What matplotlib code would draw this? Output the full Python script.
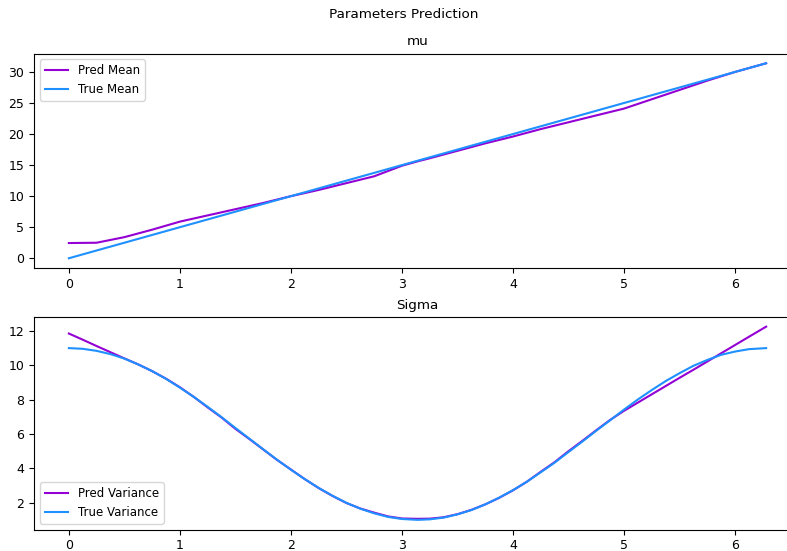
import numpy as np
import matplotlib
matplotlib.use("Agg")
import matplotlib.pyplot as plt

# mu: sample points along x (0 .. 2*pi)
x_mu = [0.0, 0.25, 0.5, 0.75, 1.0, 1.25, 1.5, 1.75, 2.0, 2.25, 2.5, 2.75, 3.0, 3.14,
        3.25, 3.5, 3.75, 4.0, 4.25, 4.5, 4.75, 5.0, 5.25, 5.5, 5.75, 6.0, 6.28]
pred_mean = [2.45, 2.5, 3.4, 4.6, 5.9, 6.9, 7.9, 8.9, 10.0, 11.0, 12.1, 13.2, 14.9, 15.6,
             16.1, 17.3, 18.5, 19.6, 20.8, 21.9, 23.0, 24.1, 25.6, 27.1, 28.6, 30.0, 31.4]
true_mean = [0.0, 1.25, 2.5, 3.75, 5.0, 6.25, 7.5, 8.75, 10.0, 11.25, 12.5, 13.75, 15.0, 15.7,
             16.25, 17.5, 18.75, 20.0, 21.25, 22.5, 23.75, 25.0, 26.25, 27.5, 28.75, 30.0, 31.4]

# sigma: finer sampling
x_sig = [0.0, 0.125, 0.25, 0.375, 0.5, 0.625, 0.75, 0.875, 1.0, 1.125, 1.25, 1.375,
         1.5, 1.625, 1.75, 1.875, 2.0, 2.125, 2.25, 2.375, 2.5, 2.625, 2.75, 2.875,
         3.0, 3.14, 3.25, 3.375, 3.5, 3.625, 3.75, 3.875, 4.0, 4.125, 4.25, 4.375,
         4.5, 4.625, 4.75, 4.875, 5.0, 5.125, 5.25, 5.375, 5.5, 5.625, 5.75, 5.875,
         6.0, 6.125, 6.28]
pred_var = [11.85, 11.49, 11.12, 10.76, 10.4, 10.05, 9.66, 9.22, 8.72, 8.16, 7.55, 6.96,
            6.3, 5.71, 5.1, 4.49, 3.93, 3.37, 2.85, 2.39, 1.98, 1.66, 1.42, 1.2,
            1.08, 1.06, 1.07, 1.15, 1.33, 1.58, 1.9, 2.28, 2.72, 3.22, 3.8, 4.36,
            5.0, 5.6, 6.22, 6.82, 7.35, 7.83, 8.31, 8.79, 9.27, 9.74, 10.22, 10.70,
            11.18, 11.66, 12.25]
true_var = [11.0, 10.96, 10.84, 10.65, 10.39, 10.05, 9.66, 9.21, 8.70, 8.16, 7.58, 6.98,
            6.35, 5.73, 5.11, 4.50, 3.92, 3.37, 2.86, 2.40, 1.99, 1.65, 1.38, 1.17,
            1.05, 1.0, 1.03, 1.13, 1.32, 1.57, 1.90, 2.29, 2.73, 3.22, 3.77, 4.33,
            4.95, 5.56, 6.19, 6.80, 7.42, 8.01, 8.56, 9.08, 9.54, 9.97, 10.31, 10.61,
            10.80, 10.94, 11.0]

pred_color = "darkviolet"
true_color = "dodgerblue"

fig = plt.figure(figsize=(7.87, 5.51), dpi=100)
ax1 = fig.add_axes([0.0432, 0.5136, 0.9746, 0.3893])
ax2 = fig.add_axes([0.0432, 0.039, 0.9746, 0.3857])

fig.suptitle("Parameters Prediction", x=0.513, y=0.973, va="center", fontsize=9.7)

ax1.plot(x_mu, pred_mean, color=pred_color, label="Pred Mean")
ax1.plot(x_mu, true_mean, color=true_color, label="True Mean")
ax1.set_title("mu", fontsize=9.7)
ax1.legend(loc="upper left", fontsize=8.5)

ax2.plot(x_sig, pred_var, color=pred_color, label="Pred Variance")
ax2.plot(x_sig, true_var, color=true_color, label="True Variance")
ax2.set_title("Sigma", fontsize=9.7)
ax2.legend(loc="lower left", fontsize=8.5)

for ax in (ax1, ax2):
    ax.tick_params(labelsize=9)

fig.savefig("out.png", dpi=100)
